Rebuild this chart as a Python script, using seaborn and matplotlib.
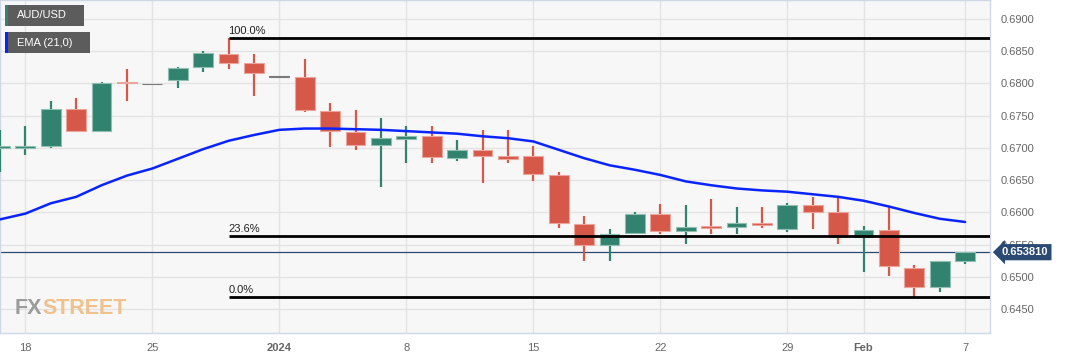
import numpy as np
import matplotlib.pyplot as plt
import matplotlib.transforms as mtransforms
from matplotlib.patches import Rectangle
import seaborn as sns
import pandas as pd

sns.set_style("white")
plt.rcParams['font.family'] = ['Liberation Sans', 'DejaVu Sans']

# daily AUD/USD candles, Dec 15 2023 -> Feb 7 2024 (business days)
dates = ["Dec 15", "Dec 18", "Dec 19", "Dec 20", "Dec 21", "Dec 22",
         "Dec 25", "Dec 26", "Dec 27", "Dec 28", "Dec 29",
         "Jan 1", "Jan 2", "Jan 3", "Jan 4", "Jan 5",
         "Jan 8", "Jan 9", "Jan 10", "Jan 11", "Jan 12",
         "Jan 15", "Jan 16", "Jan 17", "Jan 18", "Jan 19",
         "Jan 22", "Jan 23", "Jan 24", "Jan 25", "Jan 26",
         "Jan 29", "Jan 30", "Jan 31", "Feb 1", "Feb 2",
         "Feb 5", "Feb 6", "Feb 7"]
opens = [0.6700, 0.6700, 0.6703, 0.6761, 0.6726, 0.6802,
         0.6799, 0.6805, 0.6825, 0.6846, 0.6831,
         0.6811, 0.6810, 0.6758, 0.6725, 0.6704,
         0.6714, 0.6719, 0.6685, 0.6697, 0.6687,
         0.6688, 0.6658, 0.6582, 0.6550, 0.6568,
         0.6597, 0.6571, 0.6578, 0.6577, 0.6583,
         0.6574, 0.6611, 0.6601, 0.6561, 0.6573,
         0.6514, 0.6484, 0.6524]
highs = [0.6728, 0.6734, 0.6773, 0.6777, 0.6802, 0.6823,
         0.6799, 0.6826, 0.6850, 0.6871, 0.6846,
         0.6811, 0.6838, 0.6770, 0.6759, 0.6746,
         0.6734, 0.6734, 0.6712, 0.6728, 0.6728,
         0.6703, 0.6663, 0.6594, 0.6574, 0.6600,
         0.6613, 0.6611, 0.6621, 0.6608, 0.6608,
         0.6614, 0.6624, 0.6622, 0.6579, 0.6608,
         0.6519, 0.6525, 0.6538]
lows = [0.6663, 0.6689, 0.6700, 0.6725, 0.6724, 0.6773,
        0.6799, 0.6793, 0.6817, 0.6822, 0.6780,
        0.6811, 0.6756, 0.6702, 0.6696, 0.6640,
        0.6677, 0.6677, 0.6680, 0.6646, 0.6677,
        0.6649, 0.6576, 0.6525, 0.6525, 0.6567,
        0.6566, 0.6551, 0.6566, 0.6566, 0.6576,
        0.6570, 0.6574, 0.6551, 0.6508, 0.6501,
        0.6469, 0.6477, 0.6520]
closes = [0.6703, 0.6703, 0.6761, 0.6726, 0.6801, 0.6800,
          0.6799, 0.6824, 0.6847, 0.6831, 0.6816,
          0.6811, 0.6759, 0.6726, 0.6704, 0.6716,
          0.6719, 0.6686, 0.6697, 0.6688, 0.6683,
          0.6659, 0.6583, 0.6550, 0.6567, 0.6598,
          0.6571, 0.6577, 0.6576, 0.6583, 0.6580,
          0.6611, 0.6601, 0.6561, 0.6573, 0.6516,
          0.6484, 0.6524, 0.6538]
ema21 = [0.6589, 0.6598, 0.6614, 0.6624, 0.6642, 0.6657,
         0.6668, 0.6683, 0.6698, 0.6711, 0.6720,
         0.6728, 0.6730, 0.6730, 0.6729, 0.6728,
         0.6726, 0.6724, 0.6722, 0.6718, 0.6715,
         0.6710, 0.6697, 0.6684, 0.6673, 0.6666,
         0.6658, 0.6648, 0.6642, 0.6637, 0.6634,
         0.6632, 0.6628, 0.6624, 0.6618, 0.6609,
         0.6599, 0.6590, 0.6585]

fib_levels = [0.6871, 0.6564, 0.6469]
fib_labels = ["100.0%", "23.6%", "0.0%"]
fib_start = 9  # Dec 28 high
last_price = 0.653810

tick_pos = [1, 6, 11, 16, 21, 26, 31, 34, 38]
tick_lbl = ["18", "25", "2024", "8", "15", "22", "29", "Feb", "7"]
y_ticks = [0.6450, 0.6500, 0.6550, 0.6600, 0.6650, 0.6700, 0.6750, 0.6800, 0.6850, 0.6900]

GREEN = "#31826e"
RED = "#d65848"
GRAY = "#7a7a7a"

df = pd.DataFrame({"date": dates, "open": opens, "high": highs, "low": lows,
                   "close": closes, "ema": ema21})
df["i"] = np.arange(len(df))

fig = plt.figure(figsize=(10.67, 3.6), dpi=100)
ax = fig.add_axes([0.0, 27 / 360, 990 / 1067, 333 / 360])
ax.set_facecolor("#f7f7f7")

# candles
for r in df.itertuples():
    if r.close > r.open:
        c, ec = GREEN, "#8fbfb3"
    elif r.close < r.open:
        c, ec = RED, "#eaa59c"
    else:
        c, ec = GRAY, GRAY
    ax.vlines(r.i, r.low, r.high, color=c, lw=1.6, zorder=3)
    h = max(abs(r.close - r.open), 0.00012)
    b = min(r.open, r.close) if abs(r.close - r.open) >= 0.00012 else (r.open + r.close) / 2 - h / 2
    ax.bar(r.i, h, bottom=b, width=0.78, color=c, edgecolor=ec, linewidth=0.8, zorder=4)

sns.lineplot(data=df, x="i", y="ema", ax=ax, color="#0a24ff", lw=1.8, zorder=5)

# fibonacci levels
for lvl, lab in zip(fib_levels, fib_labels):
    ax.hlines(lvl, fib_start, 40, color="black", lw=2, zorder=6)
    ax.text(fib_start, lvl + 0.0002, lab, fontsize=8, color="#222222",
            ha="left", va="bottom", zorder=6)

# last price line + tag
ax.axhline(last_price, color="#2b4a73", lw=0.9, zorder=2)
trans = mtransforms.blended_transform_factory(ax.transAxes, ax.transData)
ax.text(1.012, last_price, f"{last_price:.6f}", transform=trans, fontsize=8,
        fontweight="bold", color="white", va="center", ha="left", zorder=10,
        clip_on=False,
        bbox=dict(boxstyle="larrow,pad=0.28", fc="#2b4a73", ec="none"))

ax.set_xlim(0, 38.98)
ax.set_ylim(0.64127, 0.69295)
ax.set_xticks(tick_pos)
ax.set_xticklabels(tick_lbl)
for t in ax.get_xticklabels():
    if t.get_text() in ("2024", "Feb"):
        t.set_fontweight("bold")
        t.set_color("#555555")
    else:
        t.set_color("#777777")
ax.yaxis.tick_right()
ax.set_yticks(y_ticks)
ax.set_yticklabels([f"{v:.4f}" for v in y_ticks])
ax.tick_params(axis="both", length=0, labelsize=8, colors="#666666")
ax.tick_params(axis="x", pad=7)
ax.tick_params(axis="y", pad=8)
ax.grid(True, color="#e3e3e3", lw=1)
ax.set_axisbelow(True)
ax.set_xlabel("")
ax.set_ylabel("")
for s in ax.spines.values():
    s.set_color("#d0d7e7")
    s.set_linewidth(1)

# legend tags
def tag(y0, w, text, stripe):
    fx = lambda px: px / 1067
    fy = lambda py: 1 - py / 360
    fig.add_artist(Rectangle((fx(5), fy(y0 + 21)), fx(w), 21 / 360,
                             transform=fig.transFigure, fc="#5c5c5c", ec="none", zorder=20))
    fig.add_artist(Rectangle((fx(5), fy(y0 + 21)), fx(3), 21 / 360,
                             transform=fig.transFigure, fc=stripe, ec="none", zorder=21))
    fig.text(fx(17), fy(y0 + 10.5), text, color="white", fontsize=8, va="center",
             ha="left", zorder=22)

tag(5, 79, "AUD/USD", GREEN)
tag(32, 85, "EMA (21,0)", "#0a24ff")

# watermark
wm_font = ["Liberation Sans Narrow", "Liberation Sans", "DejaVu Sans"]
fx_txt = fig.text(15 / 1067, 1 - 314 / 360, "FX", color="#9c9c9c", fontsize=15.5,
                  fontweight="bold", family=wm_font, va="baseline", ha="left", zorder=1)
fig.add_artist(plt.Annotation("STREET", xy=(1, 0), xycoords=fx_txt, color="#f1c18c",
                              fontsize=15.5, fontweight="bold", family=wm_font,
                              va="bottom", ha="left", zorder=1))

plt.savefig("out.png", dpi=100)
